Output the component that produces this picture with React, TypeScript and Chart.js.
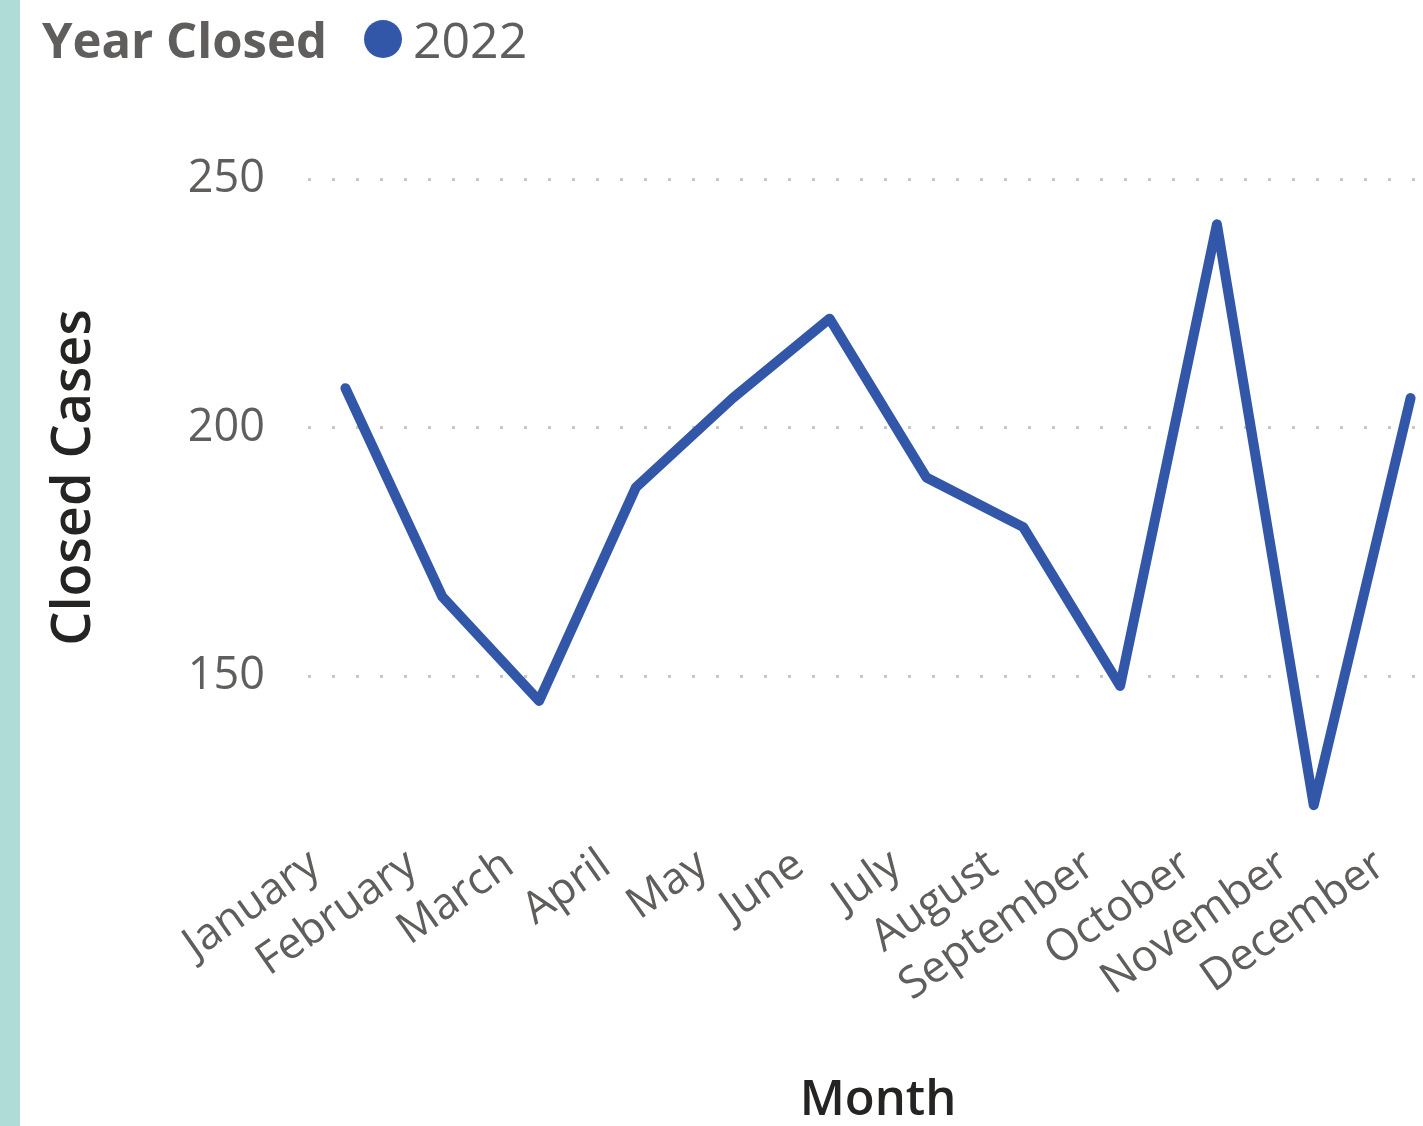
import React, { useEffect, useRef } from "react";
import { Chart, registerables } from "chart.js";

Chart.register(...registerables);

const months = [
  "January",
  "February",
  "March",
  "April",
  "May",
  "June",
  "July",
  "August",
  "September",
  "October",
  "November",
  "December",
];
const closedCases2022 = [208, 166, 145, 188, 206, 222, 190, 180, 148, 241, 124, 206];
const seriesLabel = "2022";
const legendTitle = "Year Closed";
const yTicks = [150, 200, 250];
const yMin = 120;
const yMax = 260;
const xTitle = "Month";
const yTitle = "Closed Cases";

const LINE_COLOR = "#3257A8";
const TEXT_GRAY = "#605E5C";
const TITLE_DARK = "#252423";
const FONT = "'Open Sans', 'Noto Sans', sans-serif";

export default function App() {
  const canvasRef = useRef<HTMLCanvasElement | null>(null);

  useEffect(() => {
    document.body.style.margin = "0";
    document.body.style.background = "#ffffff";
    const canvas = canvasRef.current;
    if (!canvas) return;
    const chart = new Chart(canvas, {
      type: "line",
      data: {
        labels: months,
        datasets: [
          {
            label: seriesLabel,
            data: closedCases2022,
            borderColor: LINE_COLOR,
            backgroundColor: LINE_COLOR,
            borderWidth: 10,
            borderJoinStyle: "round",
            borderCapStyle: "round",
            pointRadius: 0,
            pointHoverRadius: 0,
            tension: 0,
            fill: false,
          },
        ],
      },
      options: {
        responsive: false,
        animation: false,
        events: [],
        layout: { padding: { top: 130, left: 0, right: 0, bottom: 0 } },
        plugins: {
          legend: { display: false },
          tooltip: { enabled: false },
        },
        scales: {
          x: {
            type: "category",
            offset: true,
            grid: { display: false, drawTicks: false },
            border: { display: false },
            ticks: {
              autoSkip: false,
              minRotation: 35,
              maxRotation: 35,
              padding: 14,
              labelOffset: -30,
              color: TEXT_GRAY,
              font: { family: FONT, size: 44 },
            },
            title: {
              display: true,
              text: xTitle,
              color: TITLE_DARK,
              font: { family: FONT, size: 49, weight: "600", lineHeight: 1.0 },
              padding: { top: 0, bottom: 0 },
            },
            afterFit: (scale: any) => {
              scale.height = 301;
            },
          },
          y: {
            min: yMin,
            max: yMax,
            grid: {
              color: "#C8C8C8",
              lineWidth: 3,
              drawTicks: false,
            },
            border: { display: false, dash: [3, 21], dashOffset: 13 },
            afterBuildTicks: (scale: any) => {
              scale.ticks = yTicks.map((v) => ({ value: v }));
            },
            ticks: {
              padding: 32,
              color: TEXT_GRAY,
              font: { family: FONT, size: 45 },
            },
            title: {
              display: true,
              text: yTitle,
              color: TITLE_DARK,
              font: { family: FONT, size: 54, weight: "600" },
              padding: { top: 42, bottom: 0 },
            },
            afterFit: (scale: any) => {
              scale.width = 297;
            },
          },
        },
      },
    });
    return () => chart.destroy();
  }, []);

  return (
    <div
      style={{
        position: "relative",
        width: 1423,
        height: 1126,
        overflow: "hidden",
        background: "#ffffff",
      }}
    >
      <canvas
        ref={canvasRef}
        width={1459}
        height={1126}
        style={{ position: "absolute", left: 0, top: 0, width: 1459, height: 1126 }}
      />
      <div
        style={{
          position: "absolute",
          left: 0,
          top: 0,
          width: 20,
          height: 1126,
          background: "#AFDCD6",
        }}
      />
      <div
        style={{
          position: "absolute",
          left: 42,
          top: 8,
          display: "flex",
          alignItems: "center",
          fontFamily: FONT,
          color: TEXT_GRAY,
          lineHeight: "62px",
          whiteSpace: "nowrap",
        }}
      >
        <span style={{ fontWeight: 700, fontSize: 49 }}>{legendTitle}</span>
        <span
          style={{
            display: "inline-block",
            width: 38,
            height: 38,
            borderRadius: "50%",
            background: LINE_COLOR,
            marginLeft: 37,
            marginRight: 11,
          }}
        />
        <span style={{ fontSize: 50 }}>{seriesLabel}</span>
      </div>
    </div>
  );
}
